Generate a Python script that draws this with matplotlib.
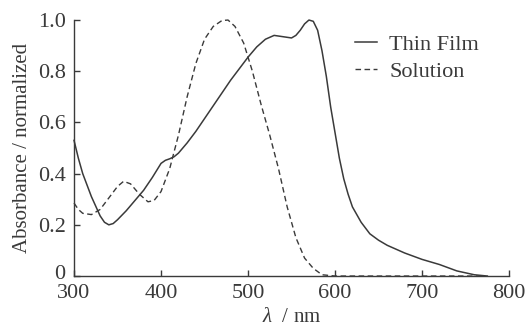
import matplotlib
matplotlib.use('Agg')
import matplotlib.pyplot as plt
import matplotlib.transforms as mtransforms
from matplotlib.ticker import FixedLocator, FuncFormatter

# Thin film absorbance (normalized)
film_wl = [300, 305, 310, 320, 330, 335, 340, 345, 350, 360, 370, 380, 390, 400, 405, 410,
           415, 420, 430, 440, 450, 460, 470, 480, 490, 500, 510, 520, 530, 540, 550, 555,
           560, 565, 570, 575, 580, 585, 590, 595, 600, 605, 610, 615, 620, 630, 640, 650,
           660, 680, 700, 720, 740, 760, 775]
film_abs = [0.53, 0.46, 0.40, 0.31, 0.235, 0.21, 0.20, 0.205, 0.22, 0.255, 0.295, 0.335, 0.385,
            0.44, 0.452, 0.458, 0.466, 0.48, 0.52, 0.565, 0.615, 0.665, 0.715, 0.765, 0.81,
            0.855, 0.895, 0.925, 0.94, 0.935, 0.93, 0.94, 0.96, 0.985, 1.0, 0.995, 0.96, 0.88,
            0.78, 0.66, 0.56, 0.46, 0.38, 0.32, 0.27, 0.21, 0.165, 0.14, 0.12, 0.09, 0.065,
            0.045, 0.02, 0.005, 0.0]

# Solution absorbance (normalized)
sol_wl = [300, 305, 310, 320, 330, 340, 350, 357, 365, 375, 385, 392, 400, 410, 420, 430, 440,
          450, 460, 470, 477, 485, 495, 505, 515, 525, 535, 545, 555, 565, 575, 585, 600, 770]
sol_abs = [0.285, 0.26, 0.245, 0.24, 0.26, 0.305, 0.35, 0.37, 0.36, 0.32, 0.29, 0.295, 0.33,
           0.42, 0.55, 0.70, 0.83, 0.925, 0.975, 0.998, 1.0, 0.975, 0.91, 0.80, 0.67, 0.55,
           0.42, 0.27, 0.15, 0.07, 0.03, 0.005, 0.0, 0.0]

x_ticks = [300, 400, 500, 600, 700, 800]
y_ticks = [0, 0.2, 0.4, 0.6, 0.8, 1.0]

plt.rcParams['font.family'] = ['Liberation Serif', 'DejaVu Serif']
plt.rcParams['mathtext.fontset'] = 'custom'
plt.rcParams['mathtext.it'] = 'Liberation Serif:italic'
plt.rcParams['mathtext.rm'] = 'Liberation Serif'

ink = '#3a3a3a'
fig = plt.figure(figsize=(5.25, 3.29), dpi=100)
ax = fig.add_axes([0.141, 0.161, 0.8286, 0.7781])

ax.plot(film_wl, film_abs, color=ink, lw=1.1, label='Thin Film', clip_on=False)
ax.plot(sol_wl, sol_abs, color=ink, lw=1.0, ls=(0, (4, 2.5)), label='Solution', clip_on=False)

ax.set_xlim(300, 800)
ax.set_ylim(0, 1.0)
ax.xaxis.set_major_locator(FixedLocator(x_ticks))
ax.yaxis.set_major_locator(FixedLocator(y_ticks))
ax.yaxis.set_major_formatter(FuncFormatter(lambda v, p: '0' if v == 0 else f'{v:.1f}'))

for s in ['top', 'right']:
    ax.spines[s].set_visible(False)
for s in ['left', 'bottom']:
    ax.spines[s].set_color(ink)
    ax.spines[s].set_linewidth(1.0)

ax.tick_params(direction='in', length=4, width=1.0, colors=ink, labelsize=16, labelcolor=ink)
ax.tick_params(axis='x', pad=6)
ax.tick_params(axis='y', pad=6)

# the "0" on the y axis sits a little above the axis line, clear of "300"
zero_lbl = ax.get_yticklabels()[0]
zero_lbl.set_transform(zero_lbl.get_transform() +
                       mtransforms.ScaledTranslation(0, 3 / 72, fig.dpi_scale_trans))

ax.set_xlabel(r'$\mathit{\lambda}$  / nm', fontsize=15, color=ink, labelpad=3.5)
ax.set_ylabel('Absorbance / normalized', fontsize=15, color=ink, labelpad=4)

ax.legend(loc='upper left', bbox_to_anchor=(355 / 525, 1 - 34 / 329), bbox_transform=fig.transFigure,
          frameon=False, fontsize=16, handlelength=1.0, handletextpad=0.55, labelspacing=0.3,
          borderpad=0, borderaxespad=0, labelcolor=ink)

fig.savefig('out.png', dpi=100)
